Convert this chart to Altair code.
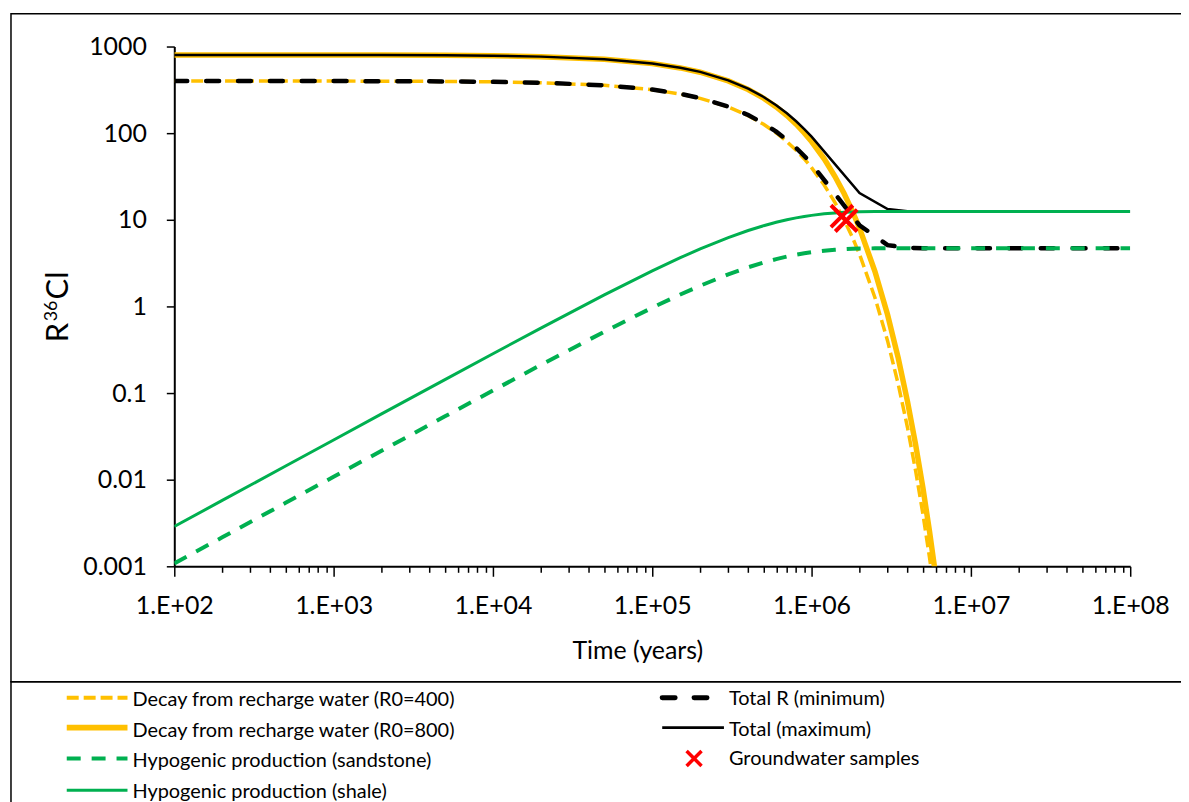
import altair as alt
import pandas as pd

# ---------------- data ----------------
t_decay = [1e2, 2e2, 5e2, 1e3, 2e3, 5e3, 1e4, 2e4, 5e4,
           1e5, 1.5e5, 2e5, 3e5, 4e5, 5e5, 6e5, 7e5, 8e5, 9e5,
           1e6, 1.2e6, 1.4e6, 1.6e6, 1.8e6, 2e6, 2.5e6, 3e6, 3.5e6, 4e6, 4.5e6, 5e6, 5.5e6, 6e6]
r_decay_400 = [399.9, 399.8, 399.5, 399.1, 398.2, 395.4, 390.9, 382.0, 356.5,
               317.7, 283.2, 252.4, 200.5, 159.2, 126.5, 100.5, 79.8, 63.4, 50.4,
               40.0, 25.2, 15.9, 10.0, 6.34, 4.0, 1.26, 0.40, 0.126, 0.040, 0.0126, 0.0040, 0.00126, 0.0004]
r_decay_800 = [799.8, 799.6, 799.1, 798.2, 796.3, 790.9, 781.8, 764.0, 713.0,
               635.4, 566.3, 504.8, 401.0, 318.5, 253.0, 201.0, 159.6, 126.8, 100.7,
               80.0, 50.5, 31.8, 20.1, 12.7, 8.0, 2.53, 0.80, 0.253, 0.080, 0.0253, 0.0080, 0.00253, 0.0008]

t_hypo = [1e2, 2e2, 5e2, 1e3, 2e3, 5e3, 1e4, 2e4, 5e4,
          1e5, 1.5e5, 2e5, 3e5, 4e5, 5e5, 6e5, 7e5, 8e5, 9e5,
          1e6, 1.2e6, 1.4e6, 1.6e6, 1.8e6, 2e6, 2.5e6, 3e6, 4e6, 1e7, 1e8]
r_hypo_sand = [0.00108, 0.00216, 0.00541, 0.01081, 0.0216, 0.0538, 0.1070, 0.2115, 0.511,
               0.967, 1.373, 1.734, 2.344, 2.829, 3.214, 3.519, 3.762, 3.955, 4.108,
               4.23, 4.40, 4.51, 4.58, 4.63, 4.65, 4.685, 4.695, 4.70, 4.70, 4.70]
r_hypo_shale = [0.00288, 0.00576, 0.01439, 0.02875, 0.0574, 0.1431, 0.2845, 0.5625, 1.360,
                2.571, 3.651, 4.613, 6.235, 7.524, 8.548, 9.360, 10.01, 10.52, 10.93,
                11.25, 11.71, 12.00, 12.19, 12.30, 12.38, 12.46, 12.49, 12.50, 12.50, 12.50]

t_total = [1e2, 2e2, 5e2, 1e3, 2e3, 5e3, 1e4, 2e4, 5e4,
           1e5, 1.5e5, 2e5, 3e5, 4e5, 5e5, 6e5, 7e5, 8e5, 9e5,
           1e6, 2e6, 3e6, 4e6, 5e6, 1e7, 1e8]
r_total_min = [399.9, 399.8, 399.5, 399.1, 398.2, 395.5, 391.0, 382.2, 357.0,
               318.7, 284.6, 254.1, 202.8, 162.0, 129.7, 104.0, 83.6, 67.4, 54.5,
               44.2, 8.65, 5.10, 4.74, 4.70, 4.70, 4.70]
r_total_max = [799.8, 799.6, 799.1, 798.2, 796.4, 791.0, 782.1, 764.6, 714.4,
               638.0, 570.0, 509.4, 407.2, 326.0, 261.5, 210.4, 169.6, 137.3, 111.6,
               91.25, 20.38, 13.29, 12.58, 12.51, 12.50, 12.50]

sample_t = [1.55e6, 1.65e6]
sample_r = [11.0, 9.8]

x_decades = [1e2, 1e3, 1e4, 1e5, 1e6, 1e7, 1e8]
y_tick_values = [0.001, 0.01, 0.1, 1, 10, 100, 1000]

series_labels = [
    "Decay from recharge water (R0=400)",
    "Decay from recharge water (R0=800)",
    "Hypogenic production (sandstone)",
    "Hypogenic production (shale)",
    "Total R (minimum)",
    "Total (maximum)",
    "Groundwater samples",
]
x_title = "Time (years)"
y_title_parts = ["R", "36", "Cl"]   # R^36Cl, "36" as superscript

# ---------------- styling ----------------
FONT = "Lato"
YELLOW = "#FFC000"
GREEN = "#00B050"
RED = "#FF0000"
BLACK = "#000000"
X_PATH = "M-1,-1L1,1M-1,1L1,-1"

x_tick_values = [m * d for d in x_decades[:-1] for m in range(1, 10)] + [x_decades[-1]]
decade = "abs(log(datum.value)/LN10 - round(log(datum.value)/LN10)) < 0.001"

x_axis = alt.Axis(
    values=x_tick_values,
    labelExpr=f"({decade}) ? '1.E+0' + round(log(datum.value)/LN10) : ''",
    labelOverlap=False, labelFlush=False,
    tickSize={"condition": {"test": decade, "value": 10}, "value": 6},
    tickWidth=1.5, tickColor=BLACK, domainColor=BLACK, domainWidth=2, grid=False,
    labelFont=FONT, labelFontSize=25, labelColor=BLACK, labelPadding=17,
    title=x_title, titleFont=FONT, titleFontSize=25, titleFontWeight="normal",
    titleColor=BLACK, titleX=465, titleY=93, titleAlign="center", titleBaseline="alphabetic",
)
y_axis = alt.Axis(
    values=y_tick_values, format="~g", labelOverlap=False, labelFlush=False,
    tickSize=8, tickWidth=1.5, tickColor=BLACK, domainColor=BLACK, domainWidth=2, grid=False,
    labelFont=FONT, labelFontSize=25, labelColor=BLACK, labelPadding=20,
    title="",
)

X = alt.X("t:Q", scale=alt.Scale(type="log", domain=[1e2, 1e8]), axis=x_axis)
Y = alt.Y("r:Q", scale=alt.Scale(type="log", domain=[0.001, 1000]), axis=y_axis)


def line_layer(t, r, color, width, dash=None, cap="butt"):
    kw = dict(color=color, strokeWidth=width, clip=True, strokeCap=cap)
    if dash:
        kw["strokeDash"] = dash
    return alt.Chart(pd.DataFrame({"t": t, "r": r})).mark_line(**kw).encode(x=X, y=Y)


one = pd.DataFrame({"k": [0]})


def legend_line(x0, x1, y, color, width, dash=None, cap="butt"):
    kw = dict(color=color, strokeWidth=width, strokeCap=cap)
    if dash:
        kw["strokeDash"] = dash
    return alt.Chart(one).mark_rule(**kw).encode(
        x=alt.value(x0), x2=alt.value(x1), y=alt.value(y))


def legend_text(x, y, label, size=20, angle=0):
    return alt.Chart(one).mark_text(
        align="left", baseline="alphabetic", font=FONT, fontSize=size, color=BLACK, angle=angle
    ).encode(x=alt.value(x), y=alt.value(y), text=alt.value(label))


frame = alt.Chart(one).mark_rect(fill="white", fillOpacity=0, stroke=BLACK, strokeWidth=1.5).encode(
    x=alt.value(-164), x2=alt.value(1300), y=alt.value(-33), y2=alt.value(638))
legend_box = alt.Chart(one).mark_rect(fill="white", fillOpacity=0, stroke=BLACK, strokeWidth=1.5).encode(
    x=alt.value(-164), x2=alt.value(1300), y=alt.value(638), y2=alt.value(900))

# rotated y-axis title with superscript
y_title_marks = [
    legend_text(-107, 297, y_title_parts[0], 31, 270),
    legend_text(-118, 276, y_title_parts[1], 18, 270),
    legend_text(-107, 254, y_title_parts[2], 31, 270),
]

DASH_Y = [12, 5]
DASH_K = [13, 19]
DASH_G = [14, 11]

lines = [
    line_layer(t_decay, r_decay_400, YELLOW, 3.5, DASH_Y),
    line_layer(t_decay, r_decay_800, YELLOW, 5.5),
    line_layer(t_total, r_total_min, BLACK, 4.5, DASH_K, "round"),
    line_layer(t_total, r_total_max, BLACK, 2.5),
    line_layer(t_hypo, r_hypo_sand, GREEN, 4, DASH_G),
    line_layer(t_hypo, r_hypo_shale, GREEN, 3),
]
samples = alt.Chart(pd.DataFrame({"t": sample_t, "r": sample_r})).mark_point(
    shape=X_PATH, filled=False, color=RED, strokeWidth=4, size=484, opacity=1
).encode(x=X, y=Y)

lx0, lx1, ltx = -108, -47, -42
rx0, rtx = 490, 557
row_line = [654, 684, 715, 747]
row_text = [662, 693, 724, 755]

legend = [
    legend_line(lx0, lx1, row_line[0], YELLOW, 4, DASH_Y),
    legend_text(ltx, row_text[0], series_labels[0]),
    legend_line(lx0, lx1, row_line[1], YELLOW, 6),
    legend_text(ltx, row_text[1], series_labels[1]),
    legend_line(lx0, lx1, row_line[2], GREEN, 4, DASH_G),
    legend_text(ltx, row_text[2], series_labels[2]),
    legend_line(lx0, lx1, row_line[3], GREEN, 3),
    legend_text(ltx, row_text[3], series_labels[3]),
    legend_line(rx0, 537, row_line[0], BLACK, 5, DASH_K, "round"),
    legend_text(rtx, row_text[0] - 1, series_labels[4]),
    legend_line(rx0, 552, row_line[1], BLACK, 3),
    legend_text(rtx, row_text[1] - 1, series_labels[5]),
    alt.Chart(one).mark_point(shape=X_PATH, filled=False, color=RED, strokeWidth=3.5,
                              size=225, opacity=1).encode(x=alt.value(522), y=alt.value(row_line[2])),
    legend_text(rtx, row_text[2] - 2, series_labels[6]),
]

chart = alt.layer(frame, legend_box, *lines, samples, *legend, *y_title_marks).properties(
    width=960, height=522,
    padding={"left": 167, "top": 37, "right": 51, "bottom": 235},
    autosize=alt.AutoSizeParams(type="none"),
).configure_view(stroke=None)

chart.save("out.html", embed_options={"renderer": "svg", "actions": False})
